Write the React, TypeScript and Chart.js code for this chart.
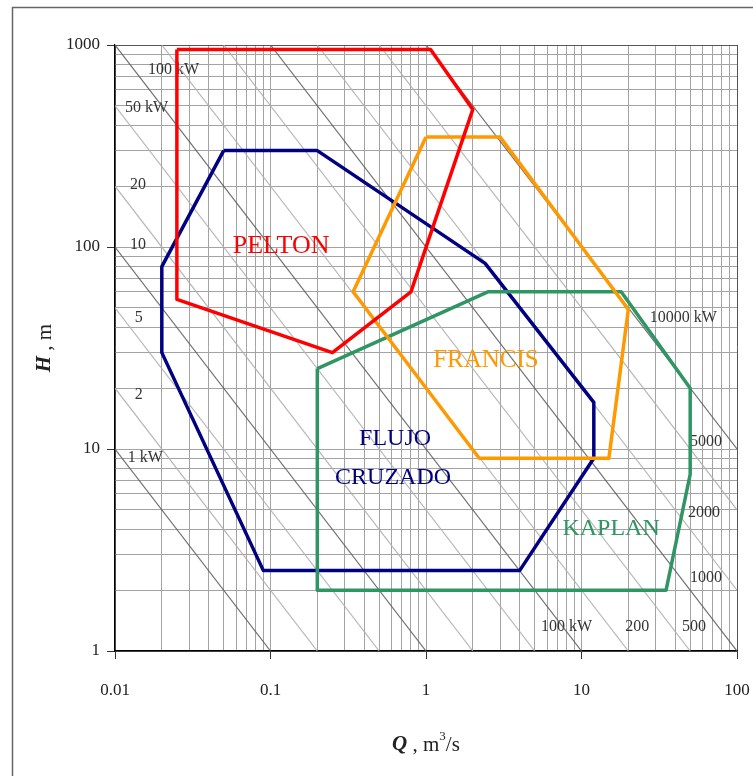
import React, { useEffect, useRef } from 'react';
import { Chart, registerables } from 'chart.js';

Chart.register(...registerables);

// Turbine application ranges: [Q (m3/s), H (m)]
const peltonPts: number[][] = [[0.025, 950], [1.07, 950], [2, 480], [0.8, 60], [0.25, 30], [0.025, 55]];
const flujoPts: number[][] = [[0.05, 300], [0.2, 300], [2.4, 83], [12, 17], [12, 9], [4, 2.5], [0.09, 2.5], [0.02, 30], [0.02, 80]];
const francisPts: number[][] = [[1, 350], [3, 350], [20, 49], [15, 9], [2.2, 9], [0.34, 60]];
const kaplanPts: number[][] = [[0.2, 25], [2.5, 60], [18, 60], [50, 20], [50, 7.5], [35, 2], [0.2, 2]];

// Power lines (kW): P = 10 * Q * H
const powerLevels: number[] = [1, 2, 5, 10, 20, 50, 100, 200, 500, 1000, 2000, 5000, 10000];
const darkLevels: number[] = [1, 10, 100, 1000, 10000];

// Axes
const xMajor: number[] = [0.01, 0.1, 1, 10, 100];
const xTickLabels: string[] = ['0.01', '0.1', '1', '10', '100'];
const yMajor: number[] = [1, 10, 100, 1000];
const yTickLabels: string[] = ['1', '10', '100', '1000'];

// Annotation texts, anchored in data units
const typeLabels = [
  { text: 'PELTON', q: 0.117, h: 101, color: '#ff0000', size: 26 },
  { text: 'FRANCIS', q: 2.43, h: 27.3, color: '#ff9900', size: 25 },
  { text: 'FLUJO', q: 0.633, h: 11.3, color: '#000080', size: 24 },
  { text: 'CRUZADO', q: 0.614, h: 7.18, color: '#000080', size: 24 },
  { text: 'KAPLAN', q: 15.5, h: 4.02, color: '#2e9563', size: 24 },
];
const powerLabels = [
  { text: '100 kW', q: 0.0163, h: 752 },
  { text: '50 kW', q: 0.0116, h: 488 },
  { text: '20', q: 0.0125, h: 203 },
  { text: '10', q: 0.0125, h: 102 },
  { text: '5', q: 0.0134, h: 44.6 },
  { text: '2', q: 0.0134, h: 18.5 },
  { text: '1 kW', q: 0.0121, h: 9.0 },
  { text: '10000 kW', q: 27.5, h: 44.6 },
  { text: '5000', q: 49.9, h: 10.8 },
  { text: '2000', q: 48.4, h: 4.82 },
  { text: '1000', q: 49.9, h: 2.3 },
  { text: '100 kW', q: 5.49, h: 1.315 },
  { text: '200', q: 19.1, h: 1.315 },
  { text: '500', q: 44.3, h: 1.315 },
];

const SERIF = '"Liberation Serif", "Times New Roman", serif';

function logTicks(min: number, max: number): number[] {
  const out: number[] = [];
  for (let e = Math.round(Math.log10(min)); e < Math.round(Math.log10(max)); e++) {
    for (let m = 1; m <= 9; m++) out.push(parseFloat((m * Math.pow(10, e)).toPrecision(6)));
  }
  out.push(max);
  return out;
}

function isMajor(v: number, majors: number[]) {
  return majors.some((m) => Math.abs(m - v) / m < 1e-6);
}

function poly(pts: number[][]) {
  const d = pts.map(([x, y]) => ({ x, y }));
  d.push({ x: pts[0][0], y: pts[0][1] });
  return d;
}

export default function App() {
  const ref = useRef<HTMLCanvasElement | null>(null);

  useEffect(() => {
    if (!ref.current) return;

    const polyDs = (pts: number[][], color: string) => ({
      data: poly(pts),
      showLine: true,
      borderColor: color,
      backgroundColor: color,
      borderWidth: 3.5,
      pointRadius: 0,
      fill: false,
      tension: 0,
      borderJoinStyle: 'round' as const,
    });

    const powerDs = powerLevels.map((p) => {
      const c = p / 10;
      const q1 = Math.max(0.01, c / 1000);
      const q2 = Math.min(100, c / 1);
      const dark = darkLevels.includes(p);
      return {
        data: [{ x: q1, y: c / q1 }, { x: q2, y: c / q2 }],
        showLine: true,
        borderColor: dark ? 'rgba(95,95,95,0.9)' : 'rgba(175,175,175,0.9)',
        borderWidth: 1.2,
        pointRadius: 0,
        fill: false,
      };
    });

    const xTicks = logTicks(0.01, 100);
    const yTicks = logTicks(1, 1000);

    const framePlugin = {
      id: 'frame',
      beforeDraw(chart: any) {
        const ctx = chart.ctx;
        ctx.save();
        ctx.strokeStyle = '#666';
        ctx.lineWidth = 1.5;
        ctx.beginPath();
        ctx.moveTo(12.5, 800);
        ctx.lineTo(12.5, 7.5);
        ctx.lineTo(800, 7.5);
        ctx.stroke();
        ctx.restore();
      },
      beforeDatasetsDraw(chart: any) {
        const { ctx, scales } = chart;
        ctx.save();
        ctx.font = `16px ${SERIF}`;
        ctx.fillStyle = '#333';
        ctx.textAlign = 'left';
        ctx.textBaseline = 'middle';
        for (const l of powerLabels) {
          ctx.fillText(l.text, scales.x.getPixelForValue(l.q), scales.y.getPixelForValue(l.h));
        }
        ctx.restore();
      },
      afterDatasetsDraw(chart: any) {
        const { ctx, scales } = chart;
        ctx.save();
        ctx.textAlign = 'center';
        ctx.textBaseline = 'middle';
        for (const l of typeLabels) {
          ctx.font = `${l.size}px ${SERIF}`;
          ctx.fillStyle = l.color;
          ctx.fillText(l.text, scales.x.getPixelForValue(l.q), scales.y.getPixelForValue(l.h));
        }
        ctx.restore();
      },
      afterDraw(chart: any) {
        const { ctx, chartArea } = chart;
        ctx.save();
        ctx.fillStyle = '#222';
        ctx.textBaseline = 'middle';
        // X title: Q , m3/s
        const fB = `bold italic 21px ${SERIF}`;
        const fN = `21px ${SERIF}`;
        const fS = `13px ${SERIF}`;
        const parts = [
          { t: 'Q', f: fB, dy: 0 },
          { t: ' , m', f: fN, dy: 0 },
          { t: '3', f: fS, dy: -8 },
          { t: '/s', f: fN, dy: 0 },
        ];
        let total = 0;
        for (const p of parts) { ctx.font = p.f; total += ctx.measureText(p.t).width; }
        let x = (chartArea.left + chartArea.right) / 2 - total / 2;
        const yT = 745;
        ctx.textAlign = 'left';
        for (const p of parts) {
          ctx.font = p.f;
          ctx.fillText(p.t, x, yT + p.dy);
          x += ctx.measureText(p.t).width;
        }
        // Y title: H , m (rotated)
        const yparts = [
          { t: 'H', f: fB },
          { t: ' , m', f: fN },
        ];
        let tot2 = 0;
        for (const p of yparts) { ctx.font = p.f; tot2 += ctx.measureText(p.t).width; }
        ctx.translate(45, (chartArea.top + chartArea.bottom) / 2);
        ctx.rotate(-Math.PI / 2);
        let xx = -tot2 / 2;
        for (const p of yparts) {
          ctx.font = p.f;
          ctx.fillText(p.t, xx, 0);
          xx += ctx.measureText(p.t).width;
        }
        ctx.restore();
      },
    };

    const gridColor = (min: number, max: number) => (c: any) => {
      const v = c.tick?.value;
      if (v === undefined) return '#a0a0a0';
      if (Math.abs(v - min) / min < 1e-6 || Math.abs(v - max) / max < 1e-6) return '#555';
      return '#a3a3a3';
    };

    const chart = new Chart(ref.current, {
      type: 'scatter',
      data: {
        datasets: [
          polyDs(peltonPts, '#ff0000'),
          polyDs(francisPts, '#ff9900'),
          polyDs(kaplanPts, '#2e9563'),
          polyDs(flujoPts, '#000080'),
          ...powerDs,
        ] as any,
      },
      options: {
        responsive: false,
        animation: false,
        events: [],
        layout: { padding: { top: 45, right: 16, left: 0, bottom: 0 } },
        plugins: {
          legend: { display: false },
          tooltip: { enabled: false },
          title: { display: false },
        },
        scales: {
          x: {
            type: 'logarithmic',
            min: 0.01,
            max: 100,
            afterBuildTicks: (s: any) => {
              s.ticks = xTicks.map((v) => ({ value: v, major: isMajor(v, xMajor) }));
            },
            afterFit: (s: any) => { s.height = 125; s.paddingLeft = 0; s.paddingRight = 0; },
            border: { display: true, color: '#000', width: 1.2 },
            grid: {
              color: gridColor(0.01, 100),
              lineWidth: 1,
              drawTicks: true,
              tickLength: 8,
              tickColor: (c: any) => (c.tick && isMajor(c.tick.value, xMajor) ? '#333' : 'rgba(0,0,0,0)'),
            },
            ticks: {
              autoSkip: false,
              maxRotation: 0,
              padding: 21,
              color: '#222',
              font: { family: SERIF, size: 17 },
              callback: (v: any) => {
                const i = xMajor.findIndex((m) => Math.abs(m - v) / m < 1e-6);
                return i >= 0 ? xTickLabels[i] : '';
              },
            },
          },
          y: {
            type: 'logarithmic',
            min: 1,
            max: 1000,
            afterBuildTicks: (s: any) => {
              s.ticks = yTicks.map((v) => ({ value: v, major: isMajor(v, yMajor) }));
            },
            afterFit: (s: any) => { s.width = 115; s.paddingTop = 0; s.paddingBottom = 0; },
            border: { display: true, color: '#000', width: 1.2 },
            grid: {
              color: gridColor(1, 1000),
              lineWidth: 1,
              drawTicks: true,
              tickLength: 8,
              tickColor: (c: any) => (c.tick && isMajor(c.tick.value, yMajor) ? '#333' : 'rgba(0,0,0,0)'),
            },
            ticks: {
              autoSkip: false,
              padding: 7,
              color: '#222',
              font: { family: SERIF, size: 17 },
              callback: (v: any) => {
                const i = yMajor.findIndex((m) => Math.abs(m - v) / m < 1e-6);
                return i >= 0 ? yTickLabels[i] : '';
              },
            },
          },
        },
      } as any,
      plugins: [framePlugin],
    });

    return () => chart.destroy();
  }, []);

  return (
    <div style={{ position: 'absolute', left: 0, top: 0, width: 753, height: 776, background: '#fff' }}>
      <canvas ref={ref} width={753} height={776} style={{ display: 'block', width: 753, height: 776 }} />
    </div>
  );
}
